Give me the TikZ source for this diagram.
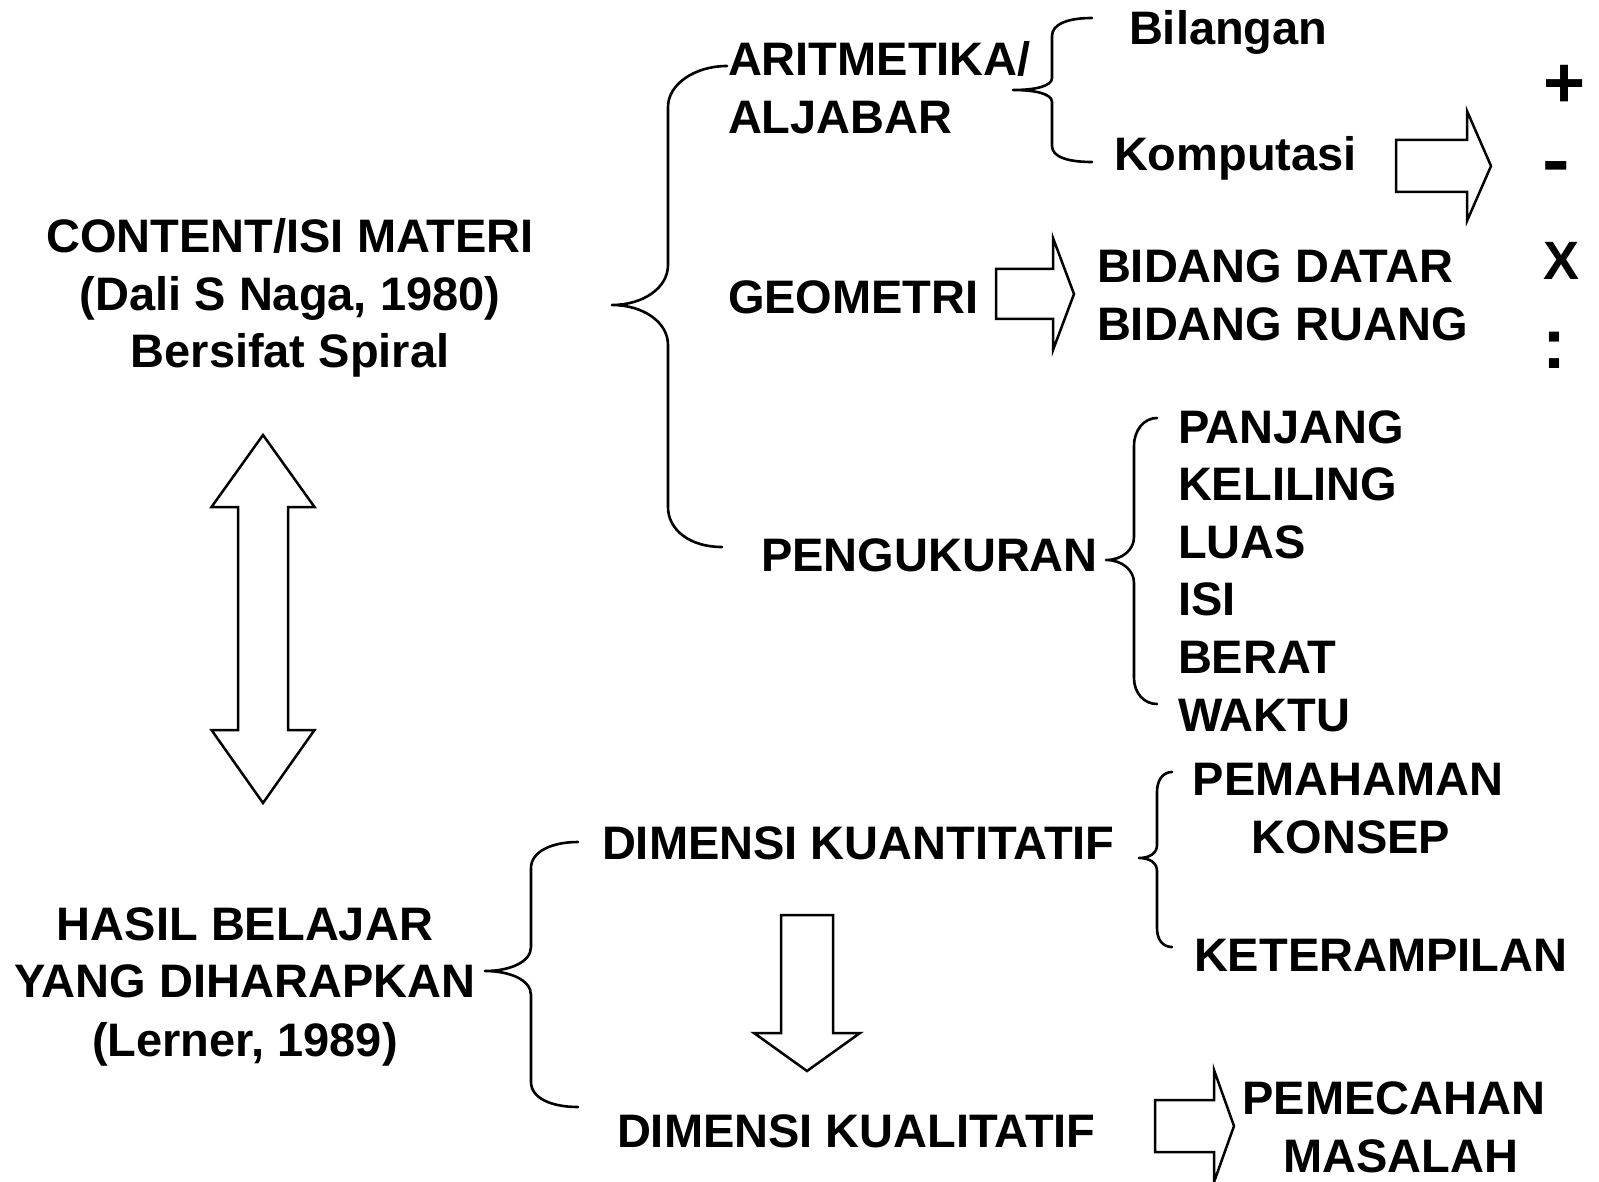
\documentclass[tikz,border=0pt]{standalone}
\usepackage{fontspec}
\setmainfont{Liberation Sans}
\tikzset{
  lbl/.style={font=\fontsize{47}{56}\selectfont\bfseries, inner sep=0pt, outer sep=0pt},
  sym/.style={font=\fontsize{72}{80}\selectfont\bfseries, inner sep=0pt, outer sep=0pt},
  bracestroke/.style={draw, line width=2.6pt, line cap=round, line join=round},
  blockarrow/.style={draw, line width=2.5pt, fill=white, line join=miter},
}
\begin{document}
\begin{tikzpicture}[x=1pt, y=-1pt]
\fill[white] (0,0) rectangle (1599,1182);
\useasboundingbox (0,0) rectangle (1599,1182);

% ---- left column texts
\node[lbl, anchor=base] (content) at (290,253) {CONTENT/ISI MATERI};
\node[lbl, anchor=base] (dali) at (290,311) {(Dali S Naga, 1980)};
\node[lbl, anchor=base] (spiral) at (290,367) {Bersifat Spiral};

\node[lbl, anchor=base] (hasil) at (245,940) {HASIL BELAJAR};
\node[lbl, anchor=base] (yang) at (245,997) {YANG DIHARAPKAN};
\node[lbl, anchor=base] (lerner) at (245,1056) {(Lerner, 1989)};

% ---- content branch
\node[lbl, anchor=base west] (arit) at (728,76) {ARITMETIKA/};
\node[lbl, anchor=base west] (aljabar) at (728,134) {ALJABAR};
\node[lbl, anchor=base west] (bilangan) at (1129,45) {Bilangan};
\node[lbl, anchor=base west] (komputasi) at (1114,171) {Komputasi};

\node[sym, anchor=base] (plus) at (1565,108) {+};
\node[sym, anchor=base, xscale=1.15] (minus) at (1556,185) {-};
\node[font=\fontsize{54}{60}\selectfont\bfseries, inner sep=0pt] (kali) at (1561,261) {X};
\node[sym] (bagi) at (1554,350) {:};

\node[lbl, anchor=base west] (geometri) at (728,314) {GEOMETRI};
\node[lbl, anchor=base west] (datar) at (1097,283) {BIDANG DATAR};
\node[lbl, anchor=base west] (ruang) at (1097,341) {BIDANG RUANG};

\node[lbl, anchor=base west] (ukur) at (761,571) {PENGUKURAN};
\node[lbl, anchor=base west] (panjang) at (1178,443) {PANJANG};
\node[lbl, anchor=base west] (keliling) at (1178,500.6) {KELILING};
\node[lbl, anchor=base west] (luas) at (1178,558.2) {LUAS};
\node[lbl, anchor=base west] (isi) at (1178,615.8) {ISI};
\node[lbl, anchor=base west] (berat) at (1178,673.4) {BERAT};
\node[lbl, anchor=base west] (waktu) at (1178,731) {WAKTU};

% ---- learning outcome branch
\node[lbl, anchor=base west] (kuan) at (602,859) {DIMENSI KUANTITATIF};
\node[lbl, anchor=base west] (kual) at (617,1147) {DIMENSI KUALITATIF};
\node[lbl, anchor=base] (pemahaman) at (1348,795) {PEMAHAMAN};
\node[lbl, anchor=base] (konsep) at (1351,853) {KONSEP};
\node[lbl, anchor=base west] (terampil) at (1194,971) {KETERAMPILAN};
\node[lbl, anchor=base] (pemecahan) at (1394,1114) {PEMECAHAN};
\node[lbl, anchor=base] (masalah) at (1401,1172) {MASALAH};

% ---- braces
% content brace
\draw[bracestroke] (727,66) .. controls (695,66) and (668,84) .. (668,107)
  -- (668,265) .. controls (668,288) and (643,305) .. (612,305)
  .. controls (643,305) and (668,322) .. (668,345)
  -- (668,507) .. controls (668,530) and (690,547) .. (722,547);
% aritmetika brace
\draw[bracestroke] (1092,18) .. controls (1068,18) and (1052,24) .. (1052,36)
  -- (1052,78) .. controls (1052,86) and (1036,90) .. (1013,90)
  .. controls (1036,90) and (1052,94) .. (1052,102)
  -- (1052,146) .. controls (1052,157) and (1068,162) .. (1092,162);
% pengukuran brace
\draw[bracestroke] (1157,418) .. controls (1144,418) and (1134,430) .. (1134,446)
  -- (1134,537) .. controls (1134,550) and (1122,560) .. (1106,560)
  .. controls (1122,560) and (1134,570) .. (1134,583)
  -- (1134,678) .. controls (1134,693) and (1144,704) .. (1157,704);
% kuantitatif brace
\draw[bracestroke] (1172,772) .. controls (1163,772) and (1157,780) .. (1157,792)
  -- (1157,845) .. controls (1157,853) and (1150,858) .. (1139,858)
  .. controls (1150,858) and (1157,863) .. (1157,871)
  -- (1157,928) .. controls (1157,940) and (1163,947) .. (1172,947);
% hasil brace
\draw[bracestroke] (578,842) .. controls (551,842) and (531,852) .. (531,868)
  -- (531,947) .. controls (531,962) and (510,971) .. (485,971)
  .. controls (510,971) and (531,980) .. (531,995)
  -- (531,1082) .. controls (531,1098) and (551,1107) .. (578,1107);

% ---- block arrows
\draw[blockarrow] (263,435) -- (314.5,507) -- (288,507) -- (288,730) -- (314.5,730)
  -- (263,803) -- (211.5,730) -- (238,730) -- (238,507) -- (211.5,507) -- cycle;
\draw[blockarrow] (781,915) -- (833,915) -- (833,1033) -- (860,1033) -- (807,1071)
  -- (754,1033) -- (781,1033) -- cycle;
\draw[blockarrow] (1396,140) -- (1467,140) -- (1467,111) -- (1491,166) -- (1467,221)
  -- (1467,192) -- (1396,192) -- cycle;
\draw[blockarrow] (996,269) -- (1053,269) -- (1053,238) -- (1074,294) -- (1053,350)
  -- (1053,319) -- (996,319) -- cycle;
\draw[blockarrow] (1155,1100) -- (1214,1100) -- (1214,1070) -- (1234,1126) -- (1214,1182)
  -- (1214,1152) -- (1155,1152) -- cycle;
\end{tikzpicture}
\end{document}
